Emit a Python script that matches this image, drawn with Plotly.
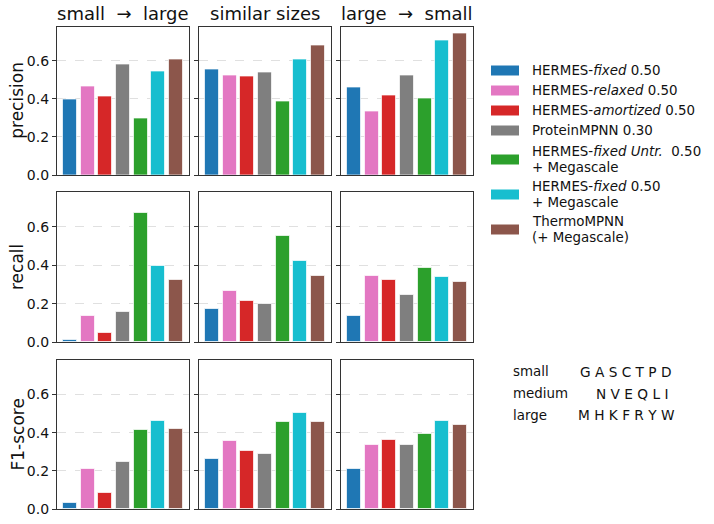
import plotly.graph_objects as go

# ---------------- data ----------------
models = [
    "HERMES-<i>fixed</i> 0.50",
    "HERMES-<i>relaxed</i> 0.50",
    "HERMES-<i>amortized</i> 0.50",
    "ProteinMPNN 0.30",
    "HERMES-<i>fixed Untr.</i>  0.50<br>+ Megascale",
    "HERMES-<i>fixed</i> 0.50<br>+ Megascale",
    "ThermoMPNN<br>(+ Megascale)",
]
colors = ["#1f77b4", "#e377c2", "#d62728", "#7f7f7f", "#2ca02c", "#17becf", "#8c564b"]
panels = ["small  \u2192  large", "similar sizes", "large  \u2192  small"]
metrics = ["precision", "recall", "F1-score"]

precision_small_large = [0.395, 0.468, 0.412, 0.582, 0.296, 0.546, 0.609]
precision_similar = [0.556, 0.521, 0.520, 0.537, 0.387, 0.607, 0.681]
precision_large_small = [0.458, 0.335, 0.417, 0.523, 0.404, 0.710, 0.744]

recall_small_large = [0.012, 0.135, 0.046, 0.156, 0.672, 0.396, 0.322]
recall_similar = [0.170, 0.268, 0.212, 0.198, 0.554, 0.423, 0.343]
recall_large_small = [0.138, 0.343, 0.322, 0.247, 0.385, 0.338, 0.315]

f1_small_large = [0.030, 0.212, 0.083, 0.247, 0.412, 0.459, 0.421]
f1_similar = [0.260, 0.354, 0.304, 0.288, 0.457, 0.501, 0.457]
f1_large_small = [0.211, 0.337, 0.363, 0.335, 0.393, 0.459, 0.443]

table = [
    [precision_small_large, precision_similar, precision_large_small],
    [recall_small_large, recall_similar, recall_large_small],
    [f1_small_large, f1_similar, f1_large_small],
]

size_groups = ["small", "medium", "large"]
size_letters = ["G A S C T P D", "N V E Q L I", "M H K F R Y W"]

yticks = [0.0, 0.2, 0.4, 0.6]

# ---------------- layout geometry (pixels) ----------------
W, H = 714, 524
col_px = [(57, 189), (199, 331), (341, 473)]
row_px = [(26.5, 175), (192, 342), (360, 509)]
FONT = "DejaVu Sans"
SMALL = 13.4

ymax = max(max(v) for row in table for v in row) * 1.05
n = len(models)
xpad = 0.05 * (n - 1 + 0.8)
xrange_ = [-0.4 - xpad, n - 1 + 0.4 + xpad]

fig = go.Figure()
annotations = []
shapes = []

for r in range(3):
    for c in range(3):
        idx = r * 3 + c + 1
        xa = "x" if idx == 1 else f"x{idx}"
        ya = "y" if idx == 1 else f"y{idx}"
        fig.add_trace(go.Bar(
            x=list(range(n)), y=table[r][c], width=0.8,
            marker=dict(color=colors, line=dict(color="rgba(255,255,255,0.7)", width=1)),
            xaxis=xa, yaxis=ya, showlegend=False, hoverinfo="y",
        ))
        x0, x1 = col_px[c]
        t, b = row_px[r]
        fig.layout[f"xaxis{'' if idx == 1 else idx}"] = dict(
            domain=[x0 / W, x1 / W], range=xrange_, anchor=ya,
            showticklabels=False, ticks="", showgrid=False, zeroline=False,
            showline=True, mirror=True, linecolor="#333", linewidth=1.2,
        )
        fig.layout[f"yaxis{'' if idx == 1 else idx}"] = dict(
            domain=[1 - b / H, 1 - t / H], range=[0, ymax], anchor=xa,
            tickvals=yticks, ticktext=[f"{v:.1f}" for v in yticks],
            showticklabels=(c == 0), ticks="outside", ticklen=4, tickcolor="#333",
            tickfont=dict(family=FONT, size=14, color="#111"),
            showgrid=True, gridcolor="#e0e0e0", griddash="dash", gridwidth=0.8,
            zeroline=False, showline=True, mirror=True, linecolor="#333", linewidth=1.2,
            automargin=False,
        )

# column titles
for c, title in enumerate(panels):
    x0, x1 = col_px[c]
    annotations.append(dict(
        text=title, x=(x0 + x1) / 2 / W, y=1 - 13 / H, xref="paper", yref="paper",
        xanchor="center", yanchor="middle", showarrow=False,
        font=dict(family=FONT, size=18, color="#111"),
    ))

# row labels
for r, m in enumerate(metrics):
    t, b = row_px[r]
    annotations.append(dict(
        text=m, x=17 / W, y=1 - (t + b) / 2 / H, xref="paper", yref="paper",
        xanchor="center", yanchor="middle", textangle=-90, showarrow=False,
        font=dict(family=FONT, size=17, color="#111"),
    ))

# legend (manual, matplotlib-like swatches)
swatch_y = [70.5, 90.5, 110.5, 130.5, 159.5, 194.5, 229.5]
line_gap = 16.7
for i, (name, col) in enumerate(zip(models, colors)):
    yc = swatch_y[i]
    shapes.append(dict(
        type="rect", xref="paper", yref="paper",
        x0=491 / W, x1=519 / W, y0=1 - (yc + 5) / H, y1=1 - (yc - 5) / H,
        fillcolor=col, line=dict(width=0),
    ))
    lines = name.split("<br>")
    k = len(lines)
    for j, ln in enumerate(lines):
        ly = yc + (j - (k - 1) / 2) * line_gap
        annotations.append(dict(
            text=ln, x=530 / W, y=1 - ly / H, xref="paper", yref="paper",
            xanchor="left", yanchor="middle", showarrow=False,
            font=dict(family=FONT, size=SMALL, color="#111"),
        ))

# amino acid size groups
group_y = [371.5, 393.5, 415]
letter_x = [578, 594, 576]
for g, letters, gy, lx in zip(size_groups, size_letters, group_y, letter_x):
    annotations.append(dict(
        text=g, x=511 / W, y=1 - gy / H, xref="paper", yref="paper",
        xanchor="left", yanchor="middle", showarrow=False,
        font=dict(family=FONT, size=SMALL, color="#111"),
    ))
    annotations.append(dict(
        text=letters, x=lx / W, y=1 - gy / H, xref="paper", yref="paper",
        xanchor="left", yanchor="middle", showarrow=False,
        font=dict(family=FONT, size=SMALL + 0.3, color="#111"),
    ))

fig.update_layout(
    width=W, height=H, margin=dict(l=0, r=0, t=0, b=0),
    paper_bgcolor="white", plot_bgcolor="white",
    annotations=annotations, shapes=shapes, bargap=0,
    font=dict(family=FONT),
)

fig.write_html(
    "out.html",
    config={"displayModeBar": False},
    post_script="document.body.style.margin='0px';document.body.style.overflow='hidden';",
)
